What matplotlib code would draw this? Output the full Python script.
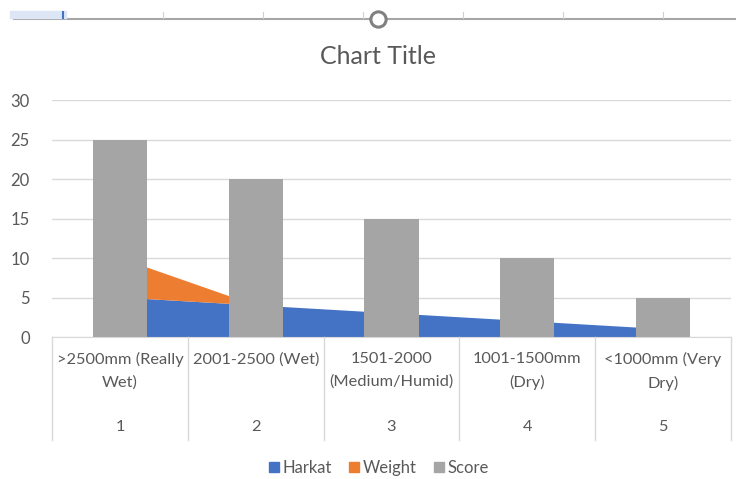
import numpy as np
import matplotlib.pyplot as plt
from matplotlib.patches import Patch
from matplotlib.lines import Line2D
import matplotlib.transforms as mtransforms

plt.rcParams['font.family'] = ['Lato', 'DejaVu Sans']

# --- data ---
categories = ['>2500mm (Really\nWet)', '2001-2500 (Wet)', '1501-2000\n(Medium/Humid)',
              '1001-1500mm\n(Dry)', '<1000mm (Very\nDry)']
numbers = ['1', '2', '3', '4', '5']
harkat = [5, 4, 3, 2, 1]
weight = [5, 0, 0, 0, 0]
score = [25, 20, 15, 10, 5]

c_harkat = '#4472c4'
c_weight = '#ed7d31'
c_score = '#a5a5a5'
txt = '#595959'
grid = '#d9d9d9'

W, H = 736, 479
fig = plt.figure(figsize=(W / 100, H / 100), dpi=100)
ax = fig.add_axes([52 / W, 1 - 337 / H, (731 - 52) / W, (337 - 100) / H])

x = np.arange(len(categories))
ax.stackplot(x, harkat, weight, colors=[c_harkat, c_weight], zorder=2)
ax.bar(x, score, width=0.4, color=c_score, zorder=3)

ax.set_xlim(-0.5, len(categories) - 0.5)
ax.set_ylim(0, 30)
ax.set_yticks(range(0, 31, 5))
ax.yaxis.grid(True, color=grid, lw=1, zorder=0)
ax.set_axisbelow(True)
ax.tick_params(axis='y', length=0, labelsize=12, labelcolor=txt, pad=16)
ax.set_xticks([])
for s in ['top', 'right', 'left']:
    ax.spines[s].set_visible(False)
ax.spines['bottom'].set_color(grid)

# multi-level category axis
trans = mtransforms.blended_transform_factory(ax.transData, ax.transAxes)
ax_h = 337 - 100
bot = -(440 - 337) / ax_h
for b in np.arange(-0.5, len(categories), 1.0):
    ax.add_line(Line2D([b, b], [0, bot], transform=trans, color=grid, lw=1,
                       clip_on=False))
for xi, lab, num in zip(x, categories, numbers):
    ax.text(xi, -(352 - 337) / ax_h, lab, transform=trans, ha='center',
            va='top', fontsize=11.8, color=txt, linespacing=1.75,
            multialignment='center')
    ax.text(xi, -(427 - 337) / ax_h, num, transform=trans, ha='center',
            va='center', fontsize=11.8, color=txt)

fig.text(378 / W, 1 - 56 / H, 'Chart Title', ha='center', va='center',
         fontsize=18, color=txt)

handles = [Patch(color=c_harkat, label='Harkat'),
           Patch(color=c_weight, label='Weight'),
           Patch(color=c_score, label='Score')]
fig.legend(handles=handles, loc='center', bbox_to_anchor=(0.515, 1 - 468 / H),
           ncol=3, frameon=False, fontsize=12, labelcolor=txt,
           handlelength=0.6, handleheight=0.6, handletextpad=0.25,
           columnspacing=1.0)

# excel chrome at the top
fig.add_artist(Line2D([14 / W, 1], [1 - 19 / H] * 2, color='#a6a6a6', lw=1.5))
for tx in [163, 263, 363, 463, 563, 663]:
    fig.add_artist(Line2D([tx / W] * 2, [1 - 12 / H, 1 - 18 / H],
                          color='#d0d0d0', lw=0.8))
fig.add_artist(Line2D([14 / W, 63 / W], [1 - 15 / H] * 2, color='#dce6f5', lw=6))
fig.add_artist(Line2D([63 / W] * 2, [1 - 12 / H, 1 - 18 / H], color=c_harkat, lw=1.5))
fig.add_artist(Line2D([378 / W], [1 - 19 / H], marker='o', markersize=11,
                      markerfacecolor='white', markeredgecolor='#808080',
                      markeredgewidth=2.2, zorder=5))

fig.savefig('out.png', dpi=100)
